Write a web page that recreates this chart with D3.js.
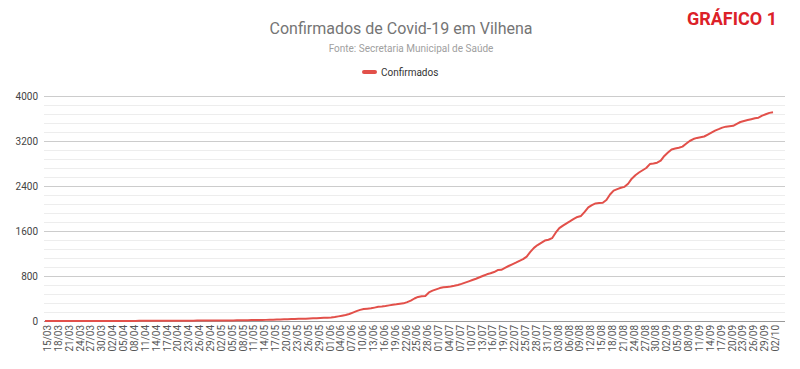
<!DOCTYPE html>
<html><head><meta charset="utf-8">
<script src="https://cdn.jsdelivr.net/npm/d3@7"></script>
<style>body{margin:0;background:#fff;}svg{display:block;font-family:Roboto, Arial, sans-serif;}</style>
</head><body>
<svg id="c" width="800" height="369"></svg>
<script>
const startDate = "2020-03-15";
const seriesName = "Confirmados";
const valuesMar = [0,0,0,0,0,0,0,0,0,0,0,0,0,1,1,1,1];
const valuesApr = [1,1,1,1,2,2,2,2,2,3,3,3,3,3,4,4,4,4,5,5,5,5,6,6,6,7,7,7,8,8];
const valuesMay = [8,9,9,10,10,11,12,13,14,15,16,17,18,19,20,22,24,26,28,30,32,34,36,38,40,42,45,48,51,55,58];
const valuesJun = [58,62,70,82,95,108,125,150,175,198,212,219,225,238,252,258,267,278,288,296,306,314,335,362,400,428,440,446,508,540];
const valuesJul = [563,585,599,605,612,625,640,660,682,705,729,752,778,805,830,848,870,905,910,945,978,1008,1037,1070,1100,1145,1230,1300,1350,1390,1430];
const valuesAug = [1445,1472,1570,1650,1695,1737,1775,1815,1850,1868,1940,2020,2060,2090,2098,2102,2150,2250,2318,2345,2368,2385,2440,2530,2590,2640,2680,2720,2790,2800,2815];
const valuesSep = [2850,2935,2995,3050,3065,3080,3100,3150,3200,3235,3255,3268,3280,3315,3350,3385,3410,3438,3455,3462,3470,3505,3538,3555,3572,3588,3605,3615,3650,3675];
const valuesOct = [3700,3712];
const yTicks = [0,800,1600,2400,3200,4000];
const yMinorTicks = [160,320,480,640,960,1120,1280,1440,1760,1920,2080,2240,2560,2720,2880,3040,3360,3520,3680,3840];

const values = [].concat(valuesMar, valuesApr, valuesMay, valuesJun, valuesJul, valuesAug, valuesSep, valuesOct);
const fmt = d3.timeFormat("%d/%m");
const d0 = d3.timeParse("%Y-%m-%d")(startDate);
const labels = values.map((v,i) => fmt(d3.timeDay.offset(d0, i)));
const data = values.map((v,i) => ({label: labels[i], value: v}));
const tickLabels = labels.filter((l,i) => i % 3 === 0);

const svg = d3.select("#c");
const x = d3.scalePoint().domain(labels).range([45, 773]);
const y = d3.scaleLinear().domain([0, 4000]).range([321, 96]);
const gridX0 = 44, gridX1 = 785;

// minor grid
svg.append("g").selectAll("line").data(yMinorTicks).join("line")
  .attr("x1", gridX0).attr("x2", gridX1)
  .attr("y1", d => y(d)+0.5).attr("y2", d => y(d)+0.5)
  .attr("stroke", "#ededed").attr("stroke-width", 1);
// major grid
svg.append("g").selectAll("line").data(yTicks.filter(d=>d>0)).join("line")
  .attr("x1", gridX0).attr("x2", gridX1)
  .attr("y1", d => y(d)+0.5).attr("y2", d => y(d)+0.5)
  .attr("stroke", "#cccccc").attr("stroke-width", 1);

// y axis labels
const yAxis = d3.axisLeft(y).tickValues(yTicks).tickFormat(d3.format("d")).tickSize(0).tickPadding(0);
const ya = svg.append("g").attr("transform", "translate(38,0)").call(yAxis);
ya.select(".domain").remove();
ya.selectAll("text").attr("font-size", 10).attr("fill", "#444").attr("font-family", "Roboto, Arial, sans-serif");

// x axis
const xAxis = d3.axisBottom(x).tickValues(tickLabels).tickSize(0).tickPadding(0);
const xa = svg.append("g").attr("transform", "translate(0,322)").call(xAxis);
xa.select(".domain").remove();
xa.selectAll("text")
  .attr("font-size", 10).attr("fill", "#555").attr("font-family", "Roboto, Arial, sans-serif")
  .attr("transform", "rotate(-90)")
  .attr("text-anchor", "end")
  .attr("x", -3).attr("y", 2).attr("dy", "0.35em");

// baseline
svg.append("line").attr("x1", gridX0).attr("x2", gridX1)
  .attr("y1", y(0)+0.5).attr("y2", y(0)+0.5).attr("stroke", "#999").attr("stroke-width", 1);

// line
const line = d3.line().x(d => x(d.label)).y(d => y(d.value));
svg.append("path").datum(data).attr("d", line)
  .attr("fill", "none").attr("stroke", "#e2504a").attr("stroke-width", 2)
  .attr("stroke-linejoin", "round");

// title
svg.append("text").attr("x", 401).attr("y", 34).attr("text-anchor", "middle")
  .attr("font-size", 16).attr("fill", "#757575").text("Confirmados de Covid-19 em Vilhena");
svg.append("text").attr("x", 411).attr("y", 52).attr("text-anchor", "middle")
  .attr("font-size", 10).attr("fill", "#a0a0a0").text("Fonte: Secretaria Municipal de Saúde");

// legend
svg.append("line").attr("x1", 364).attr("x2", 375).attr("y1", 72).attr("y2", 72)
  .attr("stroke", "#e2504a").attr("stroke-width", 4).attr("stroke-linecap", "round");
svg.append("text").attr("x", 381).attr("y", 75.5).attr("font-size", 10).attr("fill", "#333").text(seriesName);

// badge
svg.append("text").attr("x", 777).attr("y", 25).attr("text-anchor", "end")
  .attr("font-size", 18).attr("font-weight", "bold").attr("fill", "#dc2128")
  .attr("font-family", "Roboto, Arial, sans-serif").text("GRÁFICO 1");
</script>
</body></html>
